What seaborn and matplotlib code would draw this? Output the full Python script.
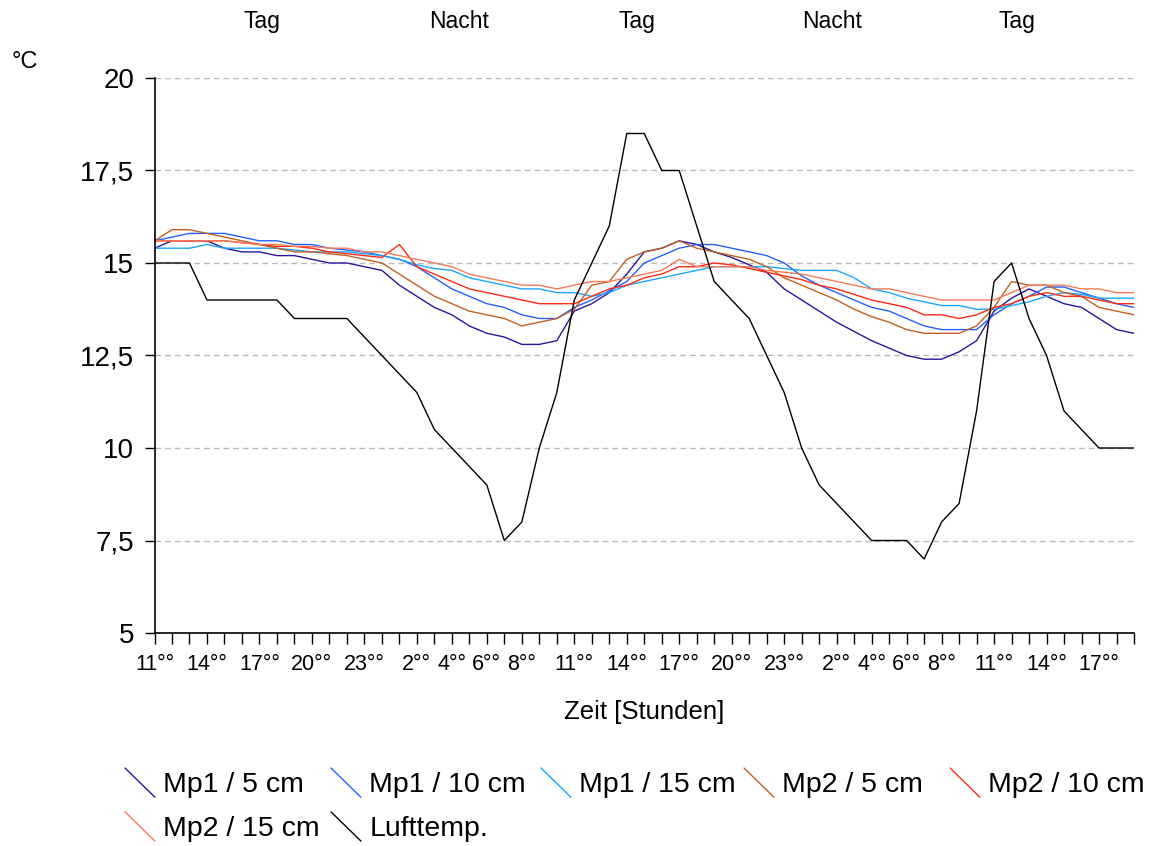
import numpy as np
import pandas as pd
import matplotlib
matplotlib.use("Agg")
import matplotlib.pyplot as plt
import seaborn as sns
from matplotlib.lines import Line2D
from matplotlib.legend_handler import HandlerBase
from matplotlib.transforms import blended_transform_factory

# ---------------- data ----------------
hours = [11, 12, 13, 14, 15, 16, 17, 18, 19, 20, 21, 22, 23, 0, 1, 2, 3, 4, 5, 6,
         7, 8, 9, 10, 11, 12, 13, 14, 15, 16, 17, 18, 19, 20, 21, 22, 23, 0, 1, 2,
         3, 4, 5, 6, 7, 8, 9, 10, 11, 12, 13, 14, 15, 16, 17, 18, 19]

tick_labels = ["11°°", "", "", "14°°", "", "", "17°°", "", "", "20°°", "", "", "23°°", "", "",
               "2°°", "", "4°°", "", "6°°", "", "8°°", "", "", "11°°", "", "", "14°°", "", "",
               "17°°", "", "", "20°°", "", "", "23°°", "", "", "2°°", "", "4°°", "", "6°°", "",
               "8°°", "", "", "11°°", "", "", "14°°", "", "", "17°°", "", ""]

mp1_5 = [15.4, 15.6, 15.6, 15.6, 15.4, 15.3, 15.3, 15.2, 15.2, 15.1,
         15.0, 15.0, 14.9, 14.8, 14.4, 14.1, 13.8, 13.6, 13.3, 13.1,
         13.0, 12.8, 12.8, 12.9, 13.7, 13.9, 14.2, 14.7, 15.3, 15.4,
         15.6, 15.5, 15.3, 15.15, 14.95, 14.75, 14.3, 14.0, 13.7, 13.4,
         13.15, 12.9, 12.7, 12.5, 12.4, 12.4, 12.6, 12.9, 13.7, 14.05,
         14.3, 14.1, 13.9, 13.8, 13.5, 13.2, 13.1]

mp1_10 = [15.6, 15.7, 15.8, 15.8, 15.8, 15.7, 15.6, 15.6, 15.5, 15.5,
          15.4, 15.35, 15.3, 15.2, 15.1, 14.9, 14.6, 14.3, 14.1, 13.9,
          13.8, 13.6, 13.5, 13.5, 13.8, 14.0, 14.25, 14.5, 15.0, 15.2,
          15.4, 15.5, 15.5, 15.4, 15.3, 15.2, 15.0, 14.65, 14.4, 14.2,
          14.0, 13.8, 13.7, 13.5, 13.3, 13.2, 13.2, 13.2, 13.6, 13.9,
          14.1, 14.35, 14.35, 14.2, 14.05, 13.9, 13.8]

mp1_15 = [15.4, 15.4, 15.4, 15.5, 15.4, 15.4, 15.4, 15.4, 15.35, 15.3,
          15.3, 15.3, 15.25, 15.2, 15.1, 14.95, 14.85, 14.8, 14.6, 14.5,
          14.4, 14.3, 14.3, 14.2, 14.2, 14.1, 14.2, 14.4, 14.5, 14.6,
          14.7, 14.8, 14.9, 14.9, 14.9, 14.9, 14.85, 14.8, 14.8, 14.8,
          14.6, 14.3, 14.2, 14.05, 13.95, 13.85, 13.85, 13.75, 13.75, 13.85,
          13.95, 14.1, 14.2, 14.15, 14.05, 14.05, 14.05]

mp2_5 = [15.6, 15.9, 15.9, 15.8, 15.7, 15.6, 15.5, 15.4, 15.3, 15.3,
         15.25, 15.2, 15.1, 15.0, 14.7, 14.4, 14.1, 13.9, 13.7, 13.6,
         13.5, 13.3, 13.4, 13.5, 13.75, 14.4, 14.5, 15.1, 15.3, 15.4,
         15.6, 15.4, 15.3, 15.2, 15.1, 14.9, 14.6, 14.4, 14.2, 14.0,
         13.75, 13.55, 13.4, 13.2, 13.1, 13.1, 13.1, 13.3, 13.8, 14.5,
         14.4, 14.4, 14.2, 14.1, 13.8, 13.7, 13.6]

mp2_10 = [15.6, 15.6, 15.6, 15.6, 15.6, 15.55, 15.5, 15.45, 15.45, 15.4,
          15.3, 15.25, 15.2, 15.15, 15.5, 14.9, 14.7, 14.5, 14.3, 14.2,
          14.1, 14.0, 13.9, 13.9, 13.9, 14.1, 14.3, 14.4, 14.6, 14.7,
          14.9, 14.9, 15.0, 14.95, 14.85, 14.75, 14.65, 14.55, 14.4, 14.3,
          14.15, 14.0, 13.9, 13.8, 13.6, 13.6, 13.5, 13.6, 13.8, 13.9,
          14.1, 14.2, 14.1, 14.1, 14.0, 13.9, 13.9]

mp2_15 = [15.6, 15.6, 15.6, 15.6, 15.6, 15.55, 15.5, 15.5, 15.45, 15.45,
          15.4, 15.4, 15.3, 15.3, 15.2, 15.1, 15.0, 14.9, 14.7, 14.6,
          14.5, 14.4, 14.4, 14.3, 14.4, 14.5, 14.5, 14.6, 14.7, 14.8,
          15.1, 14.9, 14.9, 14.9, 14.9, 14.8, 14.75, 14.7, 14.6, 14.5,
          14.4, 14.3, 14.3, 14.2, 14.1, 14.0, 14.0, 14.0, 14.0, 14.2,
          14.4, 14.4, 14.4, 14.3, 14.3, 14.2, 14.2]

lufttemp = [15, 15, 15, 14, 14, 14, 14, 14, 13.5, 13.5,
            13.5, 13.5, 13, 12.5, 12, 11.5, 10.5, 10, 9.5, 9,
            7.5, 8, 10, 11.5, 14, 15, 16, 18.5, 18.5, 17.5,
            17.5, 16, 14.5, 14, 13.5, 12.5, 11.5, 10, 9, 8.5,
            8, 7.5, 7.5, 7.5, 7, 8, 8.5, 11, 14.5, 15,
            13.5, 12.5, 11, 10.5, 10, 10, 10]

series_names = ["Mp1 / 5 cm", "Mp1 / 10 cm", "Mp1 / 15 cm",
                "Mp2 / 5 cm", "Mp2 / 10 cm", "Mp2 / 15 cm", "Lufttemp."]
series_values = [mp1_5, mp1_10, mp1_15, mp2_5, mp2_10, mp2_15, lufttemp]
series_colors = ["#2d139e", "#2460ff", "#19a6ff", "#c2611f", "#ff2a12", "#f57a5a", "#000000"]

y_ticks = [5, 7.5, 10, 12.5, 15, 17.5, 20]
y_tick_labels = ["5", "7,5", "10", "12,5", "15", "17,5", "20"]

phase_labels = ["Tag", "Nacht", "Tag", "Nacht", "Tag"]
phase_x = [6.15, 17.4, 27.6, 38.75, 49.3]

# legend columns (entries per column, Excel-like equal-width layout)
legend_columns = [["Mp1 / 5 cm", "Mp2 / 15 cm"], ["Mp1 / 10 cm", "Lufttemp."],
                  ["Mp1 / 15 cm"], ["Mp2 / 5 cm"], ["Mp2 / 10 cm"]]
legend_col_px = [125, 331, 541, 744, 950]

# ---------------- build frame ----------------
rows = []
for name, vals in zip(series_names, series_values):
    for i, (h, v) in enumerate(zip(hours, vals)):
        rows.append({"idx": i, "hour": h, "temp": v, "series": name})
df = pd.DataFrame(rows)

sns.set_theme(style="white")
plt.rcParams["font.family"] = ["Liberation Sans", "DejaVu Sans"]
plt.rcParams.update({"text.color": "black", "axes.labelcolor": "black",
                     "xtick.color": "black", "ytick.color": "black"})

W, H = 1153, 846
fig = plt.figure(figsize=(W / 100, H / 100), dpi=100)
ax = fig.add_axes([154.5 / W, 1 - 633 / H, (1134 - 154.5) / W, (633 - 78) / H])

palette = dict(zip(series_names, series_colors))
sns.lineplot(data=df, x="idx", y="temp", hue="series", hue_order=series_names,
             palette=palette, linewidth=1.0, legend=False, ax=ax,
             estimator=None, sort=False)

ax.set_xlim(0, len(hours) - 1)
ax.set_ylim(5, 20)
ax.set_yticks(y_ticks)
ax.set_yticklabels(y_tick_labels, fontsize=20, color="black")
ax.set_xticks(range(len(hours)))
ax.set_xticklabels(tick_labels, fontsize=15.5, color="black")
ax.set_xlabel("")
ax.set_ylabel("")

for s in ["top", "right"]:
    ax.spines[s].set_visible(False)
for s in ["left", "bottom"]:
    ax.spines[s].set_color("black")
    ax.spines[s].set_linewidth(1.2)

ax.tick_params(axis="x", direction="out", length=8, width=1, color="black", pad=7, bottom=True)
ax.tick_params(axis="y", direction="out", length=7.5, width=1, color="black", pad=7, left=True)

ax.yaxis.grid(True, linestyle=(0, (4, 3)), color="#b8b8b8", linewidth=1)
ax.xaxis.grid(False)
ax.set_axisbelow(True)

# top phase labels
trans = blended_transform_factory(ax.transData, ax.transAxes)
for lab, xp in zip(phase_labels, phase_x):
    ax.text(xp, 1.101, lab, transform=trans, ha="center", va="center", fontsize=16.5,
            color="black")

# axis titles
fig.text(25 / W, 1 - 62 / H, "°C", ha="center", va="center", fontsize=17, color="black")
ax.text(0.5, -(712 - 633) / (633 - 78), "Zeit [Stunden]", transform=ax.transAxes,
        ha="center", va="center", fontsize=18.5, color="black")

# legend with diagonal handles
class DiagHandler(HandlerBase):
    def create_artists(self, legend, orig_handle, xdescent, ydescent, width, height,
                       fontsize, trans):
        ln = Line2D([-xdescent, -xdescent + width], [-ydescent + height, -ydescent],
                    color=orig_handle.get_color(), linewidth=1.0, transform=trans)
        return [ln]

handles = {n: Line2D([], [], color=c, lw=1.0) for n, c in zip(series_names, series_colors)}
for names, xpx in zip(legend_columns, legend_col_px):
    leg = fig.legend([handles[n] for n in names], names, ncol=1, loc="upper left",
                     bbox_to_anchor=(xpx / W, 1 - 768 / H), frameon=False, fontsize=20.5,
                     handlelength=1.05, handleheight=1.2, handletextpad=0.3,
                     labelspacing=0.48, borderpad=0, borderaxespad=0,
                     handler_map={Line2D: DiagHandler()})
    for t in leg.get_texts():
        t.set_color("black")

fig.savefig("out.png", dpi=100)
